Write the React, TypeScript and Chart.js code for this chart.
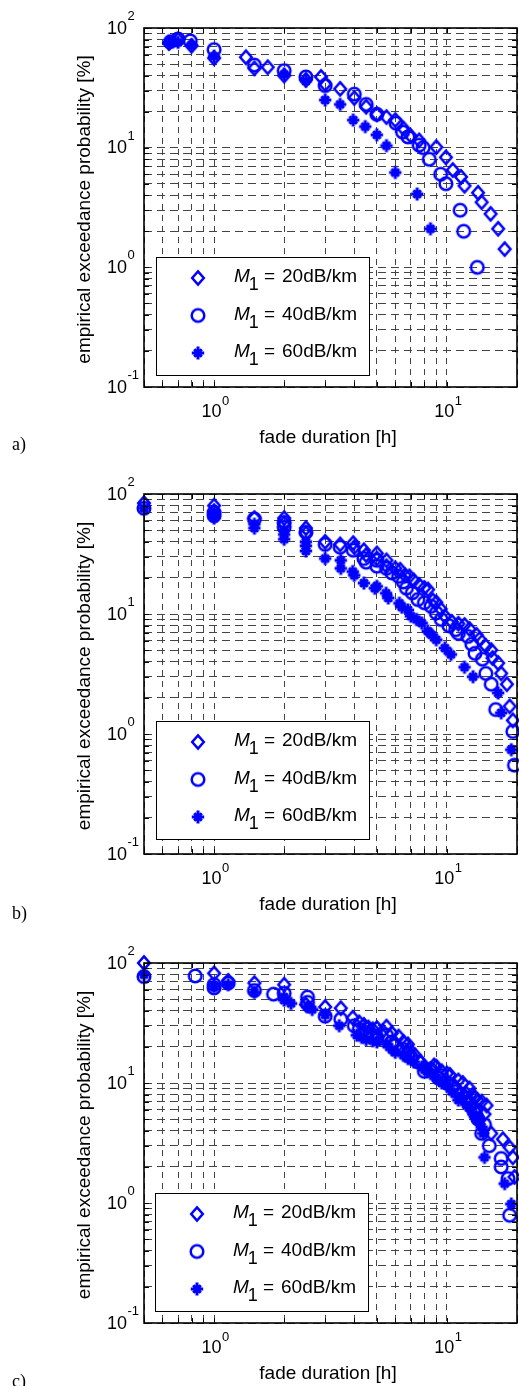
import React, { useEffect, useRef } from 'react';
import { Chart, registerables } from 'chart.js';

Chart.register(...registerables);

const BLUE = '#0000ff';
const GRID_COLOR = '#444444';
const SANS = '"Liberation Sans", Arial, sans-serif';
const SERIF = '"Liberation Serif", "Times New Roman", serif';

// axis ranges and ticks
const X_MIN = 0.5;
const X_MAX = 20;
const Y_MIN = 0.1;
const Y_MAX = 100;
const xGridValues = [0.5, 0.6, 0.7, 0.8, 0.9, 1, 2, 3, 4, 5, 6, 7, 8, 9, 10, 20];
const yGridValues = [0.1, 0.2, 0.3, 0.4, 0.5, 0.6, 0.7, 0.8, 0.9, 1, 2, 3, 4, 5, 6, 7, 8, 9, 10, 20, 30, 40, 50, 60, 70, 80, 90, 100];
const xMajorValues = [1, 10];
const xMajorExps = ['0', '1'];
const yMajorValues = [0.1, 1, 10, 100];
const yMajorExps = ['-1', '0', '1', '2'];

const xTitle = 'fade duration [h]';
const yTitle = 'empirical exceedance probability [%]';
const seriesLabels = ['20dB/km', '40dB/km', '60dB/km'];
const panelLabels = ['a)', 'b)', 'c)'];

// ---- panel a ----
const a20: [number, number][] = [
  [0.64, 75], [0.7, 80], [0.8, 71], [1.0, 56], [1.37, 57], [1.49, 46], [1.7, 47], [2.0, 40],
  [2.48, 37], [2.88, 39], [3.0, 34], [3.48, 31], [4.0, 26], [4.5, 22], [5.0, 19], [5.5, 18],
  [6.0, 17], [6.5, 14.5], [7.0, 12.5], [7.6, 11.5], [9.0, 10.1], [9.9, 8.3], [10.6, 6.5],
  [11.5, 5.7], [11.9, 4.8], [13.6, 4.2], [14.1, 3.5], [15.4, 2.8], [16.6, 2.1], [17.7, 1.42],
];
const a40: [number, number][] = [
  [0.65, 77], [0.7, 81], [0.79, 78], [1.0, 66], [1.49, 49], [2.0, 44], [2.48, 39], [3.0, 33],
  [4.0, 28], [4.5, 23], [5.0, 19], [6.05, 16], [6.45, 13.5], [6.8, 12.3], [7.6, 10.5], [7.9, 10],
  [8.4, 8], [9.4, 6], [9.9, 5], [11.4, 3], [11.8, 2], [13.5, 1],
];
const a60: [number, number][] = [
  [0.64, 74], [0.7, 76], [0.8, 72], [1.0, 58], [2.0, 41], [2.48, 36], [3.0, 25], [3.48, 23],
  [3.96, 17], [4.46, 15], [5.0, 12.8], [5.5, 10.4], [6.0, 6.2], [7.45, 4.1], [8.5, 2.1],
];

// ---- panel b ----
const b20: [number, number][] = [
  [0.5, 84], [1.0, 80], [1.0, 72], [1.49, 63], [2.0, 63], [2.0, 57], [2.48, 52], [2.48, 47],
  [3.0, 40], [3.48, 38], [3.96, 39], [4.0, 36], [4.4, 34], [4.5, 31], [5.0, 32], [5.0, 29],
  [5.5, 28], [5.5, 25], [6.0, 24], [6.3, 23.4], [6.6, 21], [6.9, 20.6], [7.2, 19], [7.6, 17.5],
  [8.0, 16.5], [8.3, 16], [8.7, 13], [9.0, 12.5], [9.4, 11], [9.8, 9.6], [10.5, 8.6], [11.2, 8.3],
  [11.9, 8.1], [12.5, 7.5], [13.4, 6.7], [13.8, 6.2], [14.7, 5.4], [15.5, 5.0], [15.7, 4.3],
  [16.6, 3.9], [17.1, 3.2], [18.1, 2.6], [18.6, 1.7], [19.2, 1.3],
];
const b40: [number, number][] = [
  [0.5, 76], [1.0, 70], [1.0, 66], [1.49, 62], [2.0, 58], [2.0, 53], [2.48, 48], [3.0, 38],
  [3.48, 36], [3.96, 34], [4.4, 29], [4.5, 27], [5.0, 28], [5.0, 25], [5.5, 24], [5.8, 22],
  [6.2, 20.6], [6.5, 18.5], [6.7, 16.4], [7.1, 15], [7.5, 13.2], [8.0, 12.4], [8.55, 11.6],
  [9.0, 10.2], [9.45, 9.0], [10.2, 8], [10.9, 7.4], [11.2, 6.9], [12.3, 6.5], [12.8, 5.6],
  [13.2, 4.7], [14.2, 4.2], [14.7, 3.2], [15.5, 2.6], [16.2, 1.6], [19.2, 1.05], [19.5, 0.55],
];
const b60: [number, number][] = [
  [0.5, 76], [1.0, 68], [1.0, 63], [1.49, 56], [1.49, 52], [2.0, 50], [2.0, 46], [2.0, 42],
  [2.48, 40], [2.48, 37], [2.48, 33.5], [3.0, 29], [3.5, 28], [3.5, 24], [3.94, 22.6], [4.0, 21],
  [4.4, 18.1], [4.9, 16.4], [5.0, 17], [5.48, 14.9], [5.6, 13.6], [6.25, 12.3], [6.4, 11.4],
  [6.8, 10.8], [7.0, 9.6], [7.4, 9.0], [7.8, 8.4], [8.27, 7.2], [8.6, 6.7], [9.0, 6.1],
  [9.8, 5.2], [10.4, 4.6], [11.9, 3.6], [12.95, 3.0], [16.6, 2.2], [17.1, 1.5], [18.9, 0.74],
];

// ---- panel c ----
const c20: [number, number][] = [
  [0.5, 100], [1.0, 82], [1.15, 71], [1.49, 68], [2.0, 66], [2.48, 45], [3.0, 43], [3.5, 42],
  [3.94, 35], [4.2, 32], [4.4, 30.5], [4.6, 29], [4.8, 28], [5.0, 28.7], [5.3, 27], [5.5, 29.5],
  [5.8, 26], [6.2, 24.4], [6.5, 22], [6.8, 21], [6.9, 19], [7.3, 17], [7.7, 15], [8.0, 13.7],
  [8.5, 13], [8.8, 14], [9.0, 13.7], [9.5, 12.5], [10.0, 12], [10.3, 11.7], [10.8, 9.3],
  [11.2, 10.5], [11.7, 10], [12.1, 8.2], [12.5, 9], [12.9, 8], [13.2, 7.5], [13.5, 7.2],
  [14.1, 7.0], [14.5, 5.5], [14.8, 6.5], [15.5, 3.8], [17.4, 3.4], [18.6, 2.9], [19.2, 2.4],
  [19.5, 1.65],
];
const c40: [number, number][] = [
  [0.5, 77], [0.83, 78], [1.0, 66], [1.0, 62], [1.15, 68], [1.49, 59], [1.8, 55], [2.0, 56],
  [2.52, 52], [2.52, 47], [3.0, 36], [3.5, 34], [4.0, 30], [4.2, 28], [4.5, 26], [4.8, 25],
  [5.0, 24], [5.5, 25], [5.8, 22], [6.0, 20.5], [6.5, 19], [6.8, 17.5], [7.0, 16.5], [7.5, 15],
  [8.0, 12.5], [8.5, 13], [9.2, 11], [9.5, 11.5], [10.0, 10], [10.5, 9.5], [11.0, 8.5],
  [11.5, 8], [12.0, 7.5], [12.5, 6.8], [13.0, 6], [13.3, 5.5], [13.6, 5], [14.1, 3.8],
  [14.5, 4.5], [15.2, 3.0], [17.1, 2.35], [17.1, 2.0], [18.3, 1.6], [18.6, 0.79],
];
const c60: [number, number][] = [
  [0.5, 80], [1.0, 64], [1.15, 66], [1.49, 57], [2.0, 52], [2.0, 49], [2.14, 46], [2.52, 43],
  [2.64, 41], [3.0, 37], [3.45, 30], [4.1, 25], [4.3, 24], [4.5, 23], [4.8, 22.5], [5.0, 22],
  [5.5, 21], [5.8, 19], [6.0, 18], [6.5, 17], [6.8, 16], [7.2, 15], [7.8, 13.5], [8.2, 12.5],
  [8.5, 12], [9.0, 11], [9.5, 10], [10.0, 9.5], [10.5, 8.5], [11.2, 7.2], [11.5, 7.8],
  [12.1, 6.6], [12.5, 6.2], [13.0, 5.5], [13.3, 5.2], [13.6, 4.9], [14.1, 4.3], [14.3, 3.8],
  [14.5, 2.4], [17.7, 1.45], [18.9, 0.98],
];

type Panel = {
  canvasTop: number;
  canvasH: number;
  plotTop: number;
  plotH: number;
  legendLeft: number;
  legendTop: number;
  labelBaseline: number;
  label: string;
  series: [number, number][][];
};

const panels: Panel[] = [
  { canvasTop: 0, canvasH: 466, plotTop: 28, plotH: 359, legendLeft: 156, legendTop: 257, labelBaseline: 450, label: panelLabels[0], series: [a20, a40, a60] },
  { canvasTop: 466, canvasH: 469, plotTop: 28, plotH: 360, legendLeft: 156, legendTop: 255, labelBaseline: 453, label: panelLabels[1], series: [b20, b40, b60] },
  { canvasTop: 935, canvasH: 451, plotTop: 28, plotH: 360, legendLeft: 155, legendTop: 258, labelBaseline: 452, label: panelLabels[2], series: [c20, c40, c60] },
];

const CANVAS_W = 519;
const PLOT_LEFT = 144;
const PLOT_RIGHT = 517;

function makeMarker(kind: 'diamond' | 'circle' | 'star'): HTMLCanvasElement {
  const c = document.createElement('canvas');
  c.width = 22;
  c.height = 22;
  const g = c.getContext('2d')!;
  g.strokeStyle = BLUE;
  g.fillStyle = BLUE;
  const m = 11;
  if (kind === 'diamond') {
    g.lineWidth = 2.5;
    g.lineJoin = 'miter';
    g.beginPath();
    g.moveTo(m, m - 6.6);
    g.lineTo(m + 5.8, m);
    g.lineTo(m, m + 6.6);
    g.lineTo(m - 5.8, m);
    g.closePath();
    g.stroke();
  } else if (kind === 'circle') {
    g.lineWidth = 2.5;
    g.beginPath();
    g.arc(m, m, 6.3, 0, Math.PI * 2);
    g.stroke();
  } else {
    g.lineWidth = 3;
    g.beginPath();
    g.moveTo(m, m - 6.5);
    g.lineTo(m, m + 6.5);
    g.moveTo(m - 6.2, m);
    g.lineTo(m + 6.2, m);
    const d = 3.8;
    g.moveTo(m - d, m - d);
    g.lineTo(m + d, m + d);
    g.moveTo(m + d, m - d);
    g.lineTo(m - d, m + d);
    g.stroke();
    g.beginPath();
    g.arc(m, m, 3.2, 0, Math.PI * 2);
    g.fill();
  }
  return c;
}

function drawPow(ctx: CanvasRenderingContext2D, x: number, baseY: number, supY: number, exp: string, align: 'center' | 'rightBase') {
  ctx.font = `18px ${SANS}`;
  const w1 = ctx.measureText('10').width;
  ctx.font = `13px ${SANS}`;
  const w2 = ctx.measureText(exp).width;
  let start: number;
  if (align === 'center') start = x - (w1 + w2) / 2;
  else start = x - w1;
  ctx.textAlign = 'left';
  ctx.textBaseline = 'alphabetic';
  ctx.font = `18px ${SANS}`;
  ctx.fillText('10', start, baseY);
  ctx.font = `13px ${SANS}`;
  ctx.fillText(exp, start + w1 + 0.5, supY);
}

function makeDecor(panel: Panel, markers: HTMLCanvasElement[]) {
  return {
    id: 'decor',
    afterDraw(chart: any) {
      const ctx: CanvasRenderingContext2D = chart.ctx;
      const { left, right, top, bottom } = chart.chartArea;
      const xs = chart.scales.x;
      const ys = chart.scales.y;
      ctx.save();

      // inward ticks
      ctx.strokeStyle = '#000';
      ctx.lineWidth = 1;
      ctx.setLineDash([]);
      ctx.beginPath();
      for (const v of xGridValues) {
        const px = Math.round(xs.getPixelForValue(v)) + 0.5;
        ctx.moveTo(px, bottom);
        ctx.lineTo(px, bottom - 5);
        ctx.moveTo(px, top);
        ctx.lineTo(px, top + 5);
      }
      for (const v of yGridValues) {
        const py = Math.round(ys.getPixelForValue(v)) + 0.5;
        ctx.moveTo(left, py);
        ctx.lineTo(left + 5, py);
        ctx.moveTo(right, py);
        ctx.lineTo(right - 5, py);
      }
      ctx.stroke();

      // frame
      ctx.lineWidth = 1.6;
      ctx.strokeRect(left, top, right - left, bottom - top);

      // tick labels
      ctx.fillStyle = '#000';
      xMajorValues.forEach((v, i) => {
        const px = xs.getPixelForValue(v);
        drawPow(ctx, px + 1, bottom + 29.5, bottom + 17.5, xMajorExps[i], 'center');
      });
      yMajorValues.forEach((v, i) => {
        const py = ys.getPixelForValue(v);
        drawPow(ctx, left - 17, py + 5.5, py - 8, yMajorExps[i], 'rightBase');
      });

      // axis titles
      ctx.font = `19px ${SANS}`;
      ctx.textAlign = 'center';
      ctx.textBaseline = 'alphabetic';
      ctx.fillText(xTitle, 328, bottom + 56);
      ctx.save();
      ctx.translate(85, (top + bottom) / 2 + 2);
      ctx.rotate(-Math.PI / 2);
      ctx.textBaseline = 'middle';
      ctx.fillText(yTitle, 0, 0);
      ctx.restore();

      // legend
      const lx = panel.legendLeft;
      const ly = panel.legendTop;
      const lw = 213;
      const lh = 118;
      ctx.fillStyle = '#fff';
      ctx.fillRect(lx, ly, lw, lh);
      ctx.strokeStyle = '#000';
      ctx.lineWidth = 1;
      ctx.strokeRect(lx + 0.5, ly + 0.5, lw, lh);
      const rowOff = [21, 58.5, 96];
      seriesLabels.forEach((lab, i) => {
        const ry = ly + rowOff[i];
        ctx.drawImage(markers[i], lx + 42 - 11, ry - 11);
        ctx.fillStyle = '#000';
        ctx.textAlign = 'left';
        ctx.textBaseline = 'alphabetic';
        ctx.font = `italic 19px ${SANS}`;
        ctx.fillText('M', lx + 78, ry + 4);
        const mw = ctx.measureText('M').width;
        ctx.font = `18px ${SANS}`;
        ctx.fillText('1', lx + 78 + mw - 1, ry + 12);
        ctx.font = `19px ${SANS}`;
        ctx.fillText('=', lx + 108, ry + 4);
        ctx.fillText(lab, lx + 126, ry + 4);
      });

      // panel label
      ctx.fillStyle = '#000';
      ctx.font = `18px ${SERIF}`;
      ctx.textAlign = 'left';
      ctx.fillText(panel.label, 12, panel.labelBaseline);

      ctx.restore();
    },
  };
}

function PanelChart({ panel }: { panel: Panel }) {
  const ref = useRef<HTMLCanvasElement | null>(null);
  useEffect(() => {
    if (!ref.current) return;
    const markers = [makeMarker('diamond'), makeMarker('circle'), makeMarker('star')];
    const padBottom = panel.canvasH - panel.plotTop - panel.plotH;
    const chart = new Chart(ref.current, {
      type: 'scatter',
      data: {
        datasets: panel.series.map((s, i) => ({
          label: seriesLabels[i],
          data: s.map(([x, y]) => ({ x, y })),
          pointStyle: markers[i] as any,
          pointRadius: 7,
          showLine: false,
          clip: false as any,
          borderColor: BLUE,
          backgroundColor: BLUE,
        })),
      },
      options: {
        animation: false,
        responsive: false,
        maintainAspectRatio: false,
        devicePixelRatio: 1,
        events: [],
        layout: {
          autoPadding: false,
          padding: { left: PLOT_LEFT, right: CANVAS_W - PLOT_RIGHT, top: panel.plotTop, bottom: padBottom },
        },
        plugins: { legend: { display: false }, tooltip: { enabled: false }, title: { display: false } },
        scales: {
          x: {
            type: 'logarithmic',
            min: X_MIN,
            max: X_MAX,
            ticks: { display: false },
            grid: { color: GRID_COLOR, lineWidth: 1, drawTicks: false },
            border: { display: false, dash: [6, 5] },
            afterBuildTicks: (s: any) => {
              s.ticks = xGridValues.map((v) => ({ value: v }));
            },
          },
          y: {
            type: 'logarithmic',
            min: Y_MIN,
            max: Y_MAX,
            ticks: { display: false },
            grid: { color: GRID_COLOR, lineWidth: 1, drawTicks: false },
            border: { display: false, dash: [8, 5] },
            afterBuildTicks: (s: any) => {
              s.ticks = yGridValues.map((v) => ({ value: v }));
            },
          },
        },
      } as any,
      plugins: [makeDecor(panel, markers)],
    });
    return () => chart.destroy();
  }, [panel]);
  return (
    <canvas
      ref={ref}
      width={CANVAS_W}
      height={panel.canvasH}
      style={{ position: 'absolute', left: 0, top: panel.canvasTop, width: CANVAS_W, height: panel.canvasH, display: 'block' }}
    />
  );
}

export default function App() {
  return (
    <div style={{ position: 'absolute', left: 0, top: 0, width: CANVAS_W, height: 1386, background: '#fff', overflow: 'hidden' }}>
      {panels.map((p, i) => (
        <PanelChart key={i} panel={p} />
      ))}
    </div>
  );
}
